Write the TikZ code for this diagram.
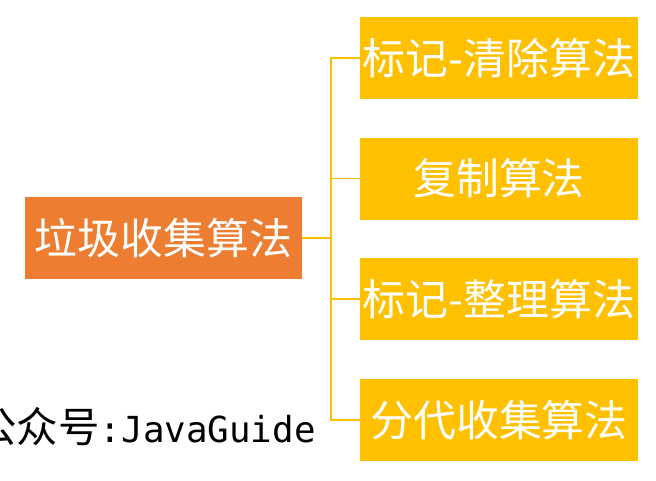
\documentclass[tikz,border=0pt]{standalone}
\usepackage{fontspec}
\usepackage{xcolor}
\usepackage{tikz}
\usetikzlibrary{positioning,calc}
\newfontfamily\cjk{Noto Sans CJK SC}
\newfontfamily\wmmono{DejaVu Sans Mono}
\definecolor{gcorange}{HTML}{ED7D31}
\definecolor{gcyellow}{HTML}{FFC000}

\begin{document}
\begin{tikzpicture}[
    rootbox/.style={fill=gcorange, text=white, minimum width=6.925cm, minimum height=2.05cm, inner sep=0pt, font=\cjk\fontsize{30.5}{34}\selectfont},
    algbox/.style={fill=gcyellow, text=white, minimum width=6.95cm, minimum height=2.05cm, inner sep=0pt, font=\cjk\fontsize{30.5}{34}\selectfont},
    link/.style={draw=gcyellow, line width=1.3pt}
]
    \useasboundingbox (0,0) rectangle (16.4,12);

    \node[rootbox] (gc) at (4.09,6.05) {垃圾收集算法};

    \node[algbox] (a1) at (12.475,10.55) {标记-清除算法};
    \node[algbox, below=0.95cm of a1] (a2) {复制算法};
    \node[algbox, below=0.95cm of a2] (a3) {标记-整理算法};
    \node[algbox, below=0.95cm of a3] (a4) {分代收集算法};

    \foreach \i in {1,...,4}
        \draw[link] (gc.east) -- ++(0.725,0) |- (a\i.west);

    \node[anchor=base west, inner sep=0pt] (wm) at (-0.62,0.95) {\cjk\fontsize{29.5}{32}\selectfont 公众号\wmmono\fontsize{25.5}{30}\selectfont :JavaGuide};
\end{tikzpicture}
\end{document}
